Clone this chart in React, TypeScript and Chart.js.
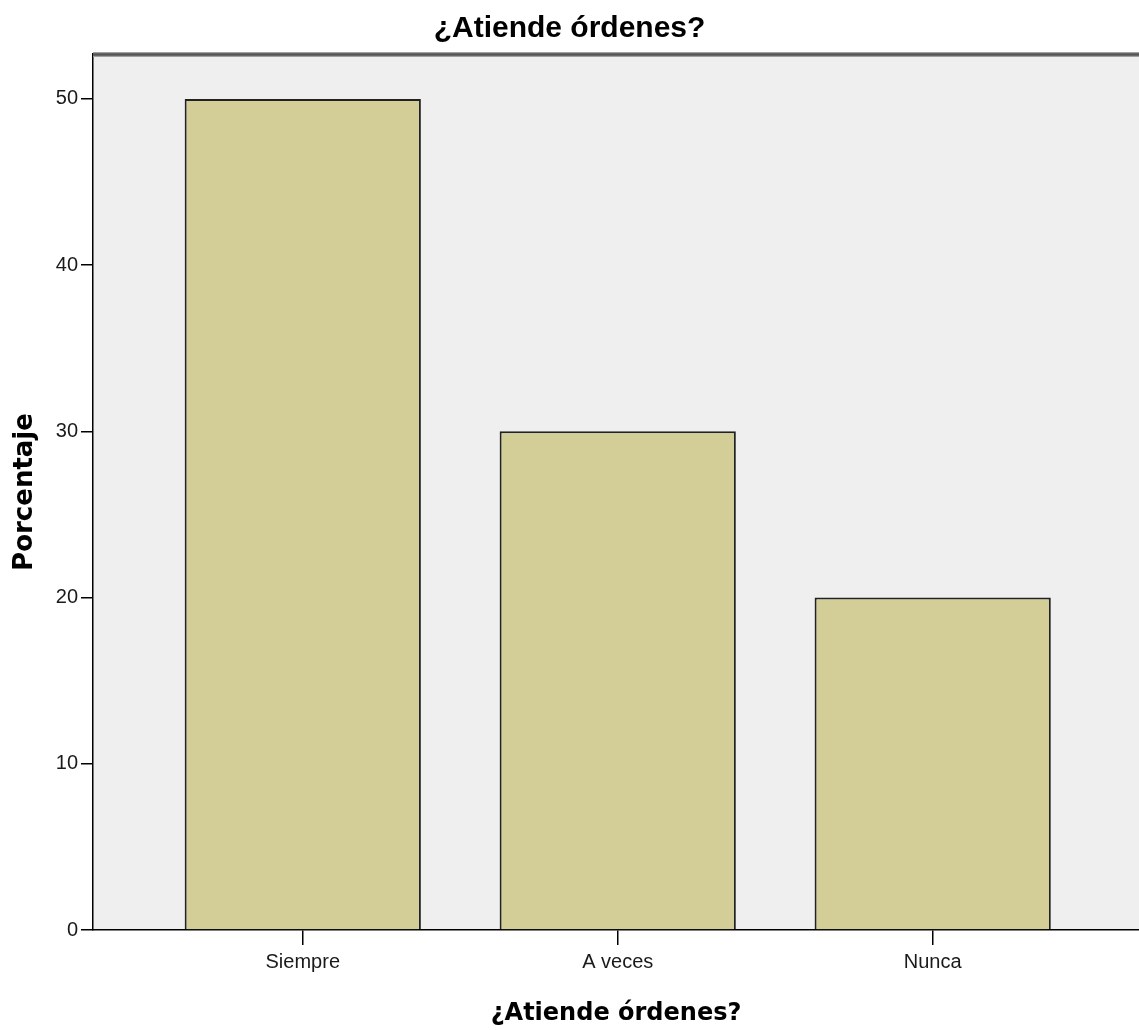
import React, { useEffect, useRef } from "react";
import { Chart, registerables } from "chart.js";

Chart.register(...registerables);

const chartTitle = "¿Atiende órdenes?";
const xAxisTitle = "¿Atiende órdenes?";
const yAxisTitle = "Porcentaje";
const categories = ["Siempre", "A veces", "Nunca"];
const percentages = [50, 30, 20];
const yTicks = [0, 10, 20, 30, 40, 50];

const W = 1139;
const H = 1030;

const plotBg = {
  id: "plotBg",
  beforeDraw(chart: any) {
    const { ctx, chartArea } = chart;
    ctx.save();
    ctx.fillStyle = "#efefef";
    ctx.fillRect(chartArea.left, chartArea.top, chartArea.right - chartArea.left, chartArea.bottom - chartArea.top);
    ctx.restore();
  },
  afterDraw(chart: any) {
    const { ctx, chartArea } = chart;
    const y = chartArea.top + 0.5;
    ctx.save();
    ctx.strokeStyle = "#a0a0a0";
    ctx.lineWidth = 5;
    ctx.beginPath();
    ctx.moveTo(chartArea.left, y);
    ctx.lineTo(chartArea.right, y);
    ctx.stroke();
    ctx.strokeStyle = "#555555";
    ctx.lineWidth = 2.5;
    ctx.beginPath();
    ctx.moveTo(chartArea.left, y);
    ctx.lineTo(chartArea.right, y);
    ctx.stroke();
    ctx.restore();
  },
};

export default function App() {
  const ref = useRef<HTMLCanvasElement | null>(null);

  useEffect(() => {
    if (!ref.current) return;
    const tickFont = { family: "'Liberation Sans', Arial, sans-serif", size: 20 };
    const chart = new Chart(ref.current, {
      type: "bar",
      data: {
        datasets: [
          {
            data: categories.map((c, i) => ({ x: i, y: percentages[i] })),
            backgroundColor: "#d3ce98",
            borderColor: "#222222",
            borderWidth: 2,
            categoryPercentage: 1,
            barPercentage: 0.75,
          },
        ],
      },
      options: {
        responsive: false,
        animation: false,
        devicePixelRatio: 1,
        layout: { padding: 0 },
        plugins: {
          legend: { display: false },
          tooltip: { enabled: false },
          title: {
            display: true,
            text: chartTitle,
            color: "#000",
            font: { family: "'Liberation Sans', Arial, sans-serif", size: 30, weight: "bold" },
            padding: { top: 11, bottom: 7 },
          },
        },
        scales: {
          x: {
            type: "linear",
            offset: false,
            min: -0.666,
            max: 2.655,
            afterBuildTicks: (scale: any) => {
              scale.ticks = categories.map((c, i) => ({ value: i }));
            },
            afterFit: (scale: any) => {
              scale.height = 100;
            },
            ticks: {
              color: "#1a1a1a",
              font: tickFont,
              padding: 5,
              autoSkip: false,
              maxRotation: 0,
              callback: (v: any) => categories[v] ?? "",
            },
            grid: { offset: false, drawOnChartArea: false, drawTicks: true, tickLength: 15, color: "#000", lineWidth: 1.5 },
            border: { display: true, color: "#000", width: 1.5 },
            title: {
              display: true,
              text: xAxisTitle,
              color: "#000",
              font: { family: "'DejaVu Sans', sans-serif", size: 24, weight: "bold" },
              padding: { top: 0, bottom: 2 },
            },
          },
          y: {
            type: "linear",
            min: 0,
            max: 52.7,
            afterBuildTicks: (scale: any) => {
              scale.ticks = yTicks.map((v) => ({ value: v }));
            },
            afterFit: (scale: any) => {
              scale.width = 93;
            },
            ticks: { color: "#1a1a1a", font: tickFont, padding: 3 },
            grid: { drawOnChartArea: false, drawTicks: true, tickLength: 12, color: "#000", lineWidth: 1.5 },
            border: { display: true, color: "#000", width: 1.5 },
            title: {
              display: true,
              text: yAxisTitle,
              color: "#000",
              font: { family: "'DejaVu Sans', sans-serif", size: 26, weight: "bold" },
              padding: { top: 10, bottom: 0 },
            },
          },
        },
      },
      plugins: [plotBg],
    } as any);
    return () => chart.destroy();
  }, []);

  return (
    <div style={{ position: "absolute", left: 0, top: 0, width: W, height: H, background: "#fff" }}>
      <canvas ref={ref} width={W} height={H} style={{ width: W, height: H, display: "block" }} />
    </div>
  );
}
